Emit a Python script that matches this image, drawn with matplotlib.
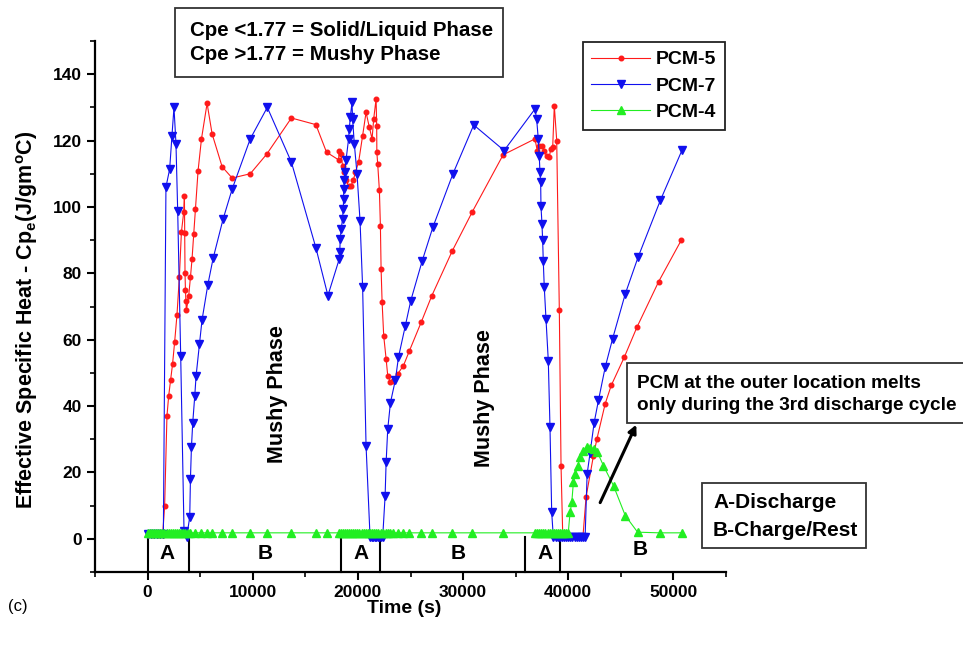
import matplotlib
matplotlib.use("Agg")
import matplotlib.pyplot as plt
from matplotlib.patches import Rectangle

plt.rcParams['font.family'] = ['Liberation Sans', 'DejaVu Sans']
plt.rcParams['font.weight'] = 'bold'
plt.rcParams['mathtext.fontset'] = 'custom'
plt.rcParams['mathtext.rm'] = 'Liberation Sans:bold'
plt.rcParams['mathtext.it'] = 'Liberation Sans:bold'
plt.rcParams['mathtext.bf'] = 'Liberation Sans:bold'
plt.rcParams['mathtext.default'] = 'rm'

# ---------------- data ----------------
pcm5_t = [0, 500, 1000, 1431, 1622, 1842, 2004, 2195, 2376, 2576,
          2796, 3025, 3216, 3435, 3502, 3530, 3560, 3600, 3640, 3690,
          3912, 4075, 4227, 4389, 4552, 4800, 5124, 5658, 6136, 7090,
          8044, 9762, 11327, 13674, 16002, 17013, 18158, 18225, 18388, 18540,
          18703, 18865, 19113, 19342, 19561, 19752, 20067, 20448, 20773, 21088,
          21346, 21499, 21728, 21785, 21800, 21880, 22042, 22137, 22204, 22300,
          22452, 22681, 22834, 23092, 23378, 23788, 24331, 24904, 26021, 27033,
          28979, 30888, 33808, 36833, 37052, 37243, 37472, 37691, 37949, 38197,
          38330, 38521, 38674, 38903, 39151, 39314, 39476, 39800, 40200, 40600,
          41000, 41400, 41698, 42395, 42719, 43512, 44085, 45325, 46537, 48597,
          50733]
pcm5_y = [1.0, 1.0, 1.0, 1.0, 10, 37, 43, 48, 52.7, 59.4,
          67.5, 79, 92.4, 98.4, 103.4, 92, 80, 75, 71.8, 68.8,
          73.3, 78.8, 84.3, 91.9, 99.4, 110.9, 120.5, 131.2, 122, 112.1,
          108.7, 110, 115.9, 126.8, 124.8, 116.5, 114.2, 117, 116, 112.4,
          110.4, 108, 106.4, 106.4, 108, 110.4, 113.5, 121.5, 128.5, 124,
          120.5, 126.5, 132.5, 124.5, 116.5, 113, 105, 94.4, 81.3, 71.3,
          61.2, 54.2, 49.2, 47.2, 47.7, 49.7, 52.2, 56.7, 65.3, 73.3,
          86.8, 98.6, 115.7, 120.5, 117, 118.5, 118.5, 117, 115.4, 114.9,
          117.5, 118, 130.5, 120, 69, 22, 1, 0.8, 0.8, 0.8,
          0.8, 0.8, 12.7, 25, 30, 40.7, 46.2, 54.7, 63.8, 77.5,
          89.9]

pcm7_t = [0, 300, 600, 900, 1200, 1500, 1746, 2099, 2319, 2510,
          2700, 2863, 3149, 3464, 3721, 4008, 4075, 4170, 4294, 4485,
          4609, 4933, 5181, 5725, 6231, 7185, 8044, 9762, 11384, 13674,
          16002, 17147, 18225, 18270, 18320, 18415, 18540, 18607, 18636, 18655,
          18703, 18731, 18865, 19113, 19180, 19275, 19437, 19494, 19657, 19914,
          20200, 20448, 20773, 21155, 21300, 21450, 21600, 21750, 21900, 22050,
          22200, 22357, 22586, 22681, 22834, 23092, 23569, 23855, 24495, 25029,
          26117, 27128, 29037, 31012, 33903, 36833, 36995, 37148, 37243, 37310,
          37377, 37405, 37500, 37567, 37624, 37720, 37882, 38102, 38264, 38426,
          38579, 38800, 39000, 39200, 39400, 39600, 39800, 40000, 40200, 40400,
          40600, 40800, 41000, 41200, 41400, 41603, 41794, 42080, 42462, 42872,
          43512, 44208, 45422, 46633, 48760, 50831]
pcm7_y = [1.5, 1.5, 1.5, 1.5, 1.5, 1.5, 106, 111.4, 121.5, 130,
          119, 98.8, 55, 2.5, 0.5, 6.6, 18, 27.6, 35, 43,
          49, 58.7, 66, 76.5, 84.5, 96.4, 105.4, 120.5, 130, 113.5,
          87.7, 73.3, 84.3, 86.3, 90.4, 93.4, 96.4, 99.4, 102.4, 105.4,
          108, 110.4, 114, 120.5, 123.5, 127, 131.5, 126.5, 119, 110,
          95.9, 75.8, 28.1, 0.5, 0.5, 0.5, 0.5, 0.5, 0.5, 0.5,
          0.5, 0.5, 13, 23, 33, 41, 48, 54.7, 64, 71.8,
          83.8, 93.9, 110, 124.7, 117, 129.5, 126.5, 120.5, 115.4, 110.4,
          107.4, 100.4, 94.9, 89.9, 83.8, 75.8, 66.3, 53.7, 33.6, 8,
          0.5, 0.5, 0.5, 0.5, 0.5, 0.5, 0.5, 0.5, 0.5, 0.5,
          0.5, 0.5, 0.5, 0.5, 0.5, 0.5, 19.5, 26, 35, 41.7,
          51.7, 60.2, 73.8, 84.8, 102, 117.2]

pcm4_t = [0, 200, 400, 600, 800, 1000, 1200, 1400, 1600, 1800,
          2000, 2200, 2400, 2600, 2800, 3000, 3200, 3400, 3600, 3800,
          4075, 4552, 5124, 5658, 6136, 7090, 8044, 9762, 11327, 13674,
          16002, 17013,
          18158, 18350, 18550, 18750, 18950, 19150, 19350, 19550, 19750, 19950,
          20150, 20350, 20550, 20750, 20950, 21150, 21350, 21550, 21750, 21950,
          22150, 22350,
          22681, 22834, 23092, 23378, 23788, 24331, 24904, 26021, 27033, 28979,
          30888, 33808,
          36833, 37033, 37233, 37433, 37633, 37833, 38033, 38233, 38433, 38633,
          38833, 39033, 39233, 39433, 39633, 39833, 40000,
          40174, 40336, 40488, 40650, 40908, 41127, 41441, 41766, 42080, 42462,
          42777, 43350, 44304, 45422, 46595, 48693, 50831]
pcm4_y = [1.8, 1.8, 1.8, 1.8, 1.8, 1.8, 1.8, 1.8, 1.8, 1.8,
          1.8, 1.8, 1.8, 1.8, 1.8, 1.8, 1.8, 1.8, 1.8, 1.8,
          1.8, 1.8, 1.8, 1.8, 1.8, 1.8, 1.8, 1.8, 1.8, 1.8,
          1.8, 1.8,
          1.8, 1.8, 1.8, 1.8, 1.8, 1.8, 1.8, 1.8, 1.8, 1.8,
          1.8, 1.8, 1.8, 1.8, 1.8, 1.8, 1.8, 1.8, 1.8, 1.8,
          1.8, 1.8,
          1.8, 1.8, 1.8, 1.8, 1.8, 1.8, 1.8, 1.8, 1.8, 1.8,
          1.8, 1.8,
          1.8, 1.8, 1.8, 1.8, 1.8, 1.8, 1.8, 1.8, 1.8, 1.8,
          1.8, 1.8, 1.8, 1.8, 1.8, 1.8, 1.8,
          8, 11, 17, 19.6, 22, 24.6, 26.6, 27.6, 27.3, 27.1,
          26.1, 22, 16, 7, 2, 1.8, 1.8]

phase_bounds = [0, 3900, 18400, 22100, 35900, 39200]
phase_labels = ['A', 'B', 'A', 'B', 'A', 'B']
phase_label_x = [1810, 11160, 20320, 29580, 37790, 46850]
phase_label_y = [-4.4, -4.4, -4.4, -4.4, -4.4, -3.2]

x_ticks = [0, 10000, 20000, 30000, 40000, 50000]
y_ticks = [0, 20, 40, 60, 80, 100, 120, 140]

# ---------------- figure ----------------
W, H = 963, 646
fig = plt.figure(figsize=(W / 100, H / 100), dpi=100)
L, R, T, B = 95, 726, 41, 572
ax = fig.add_axes([L / W, 1 - B / H, (R - L) / W, (B - T) / H])


def fx(px):
    return px / W


def fy(py):
    return 1 - py / H


ax.plot(pcm5_t, pcm5_y, color='#ff1a1a', lw=0.8, marker='o', ms=3.3,
        mec='#ff1a1a', label='PCM-5', zorder=3)
ax.plot(pcm7_t, pcm7_y, color='#1010ee', lw=0.8, marker='v', ms=6.2,
        mec='#1010ee', label='PCM-7', zorder=4)
ax.plot(pcm4_t, pcm4_y, color='#22ee22', lw=0.8, marker='^', ms=5.5,
        mec='#22ee22', label='PCM-4', zorder=5)

ax.set_xlim(-5000, 55000)
ax.set_ylim(-10, 150)
ax.set_xticks(x_ticks)
ax.set_xticklabels([str(v) for v in x_ticks])
ax.set_yticks(y_ticks)
ax.set_yticklabels([str(v) for v in y_ticks])
ax.set_xticks(range(-5000, 55001, 5000), minor=True)
ax.set_yticks(range(-10, 151, 10), minor=True)
ax.tick_params(which='major', direction='out', length=6, width=1.5,
               labelsize=12.5, pad=3.5)
ax.tick_params(which='minor', direction='out', length=3.5, width=1.2)
for lbl in ax.get_xticklabels() + ax.get_yticklabels():
    lbl.set_fontweight('bold')

for s in ['top', 'right']:
    ax.spines[s].set_visible(False)
for s in ['left', 'bottom']:
    ax.spines[s].set_linewidth(1.6)

ax.set_xlabel('Time (s)', fontsize=14, fontweight='bold')
ax.xaxis.set_label_coords((404 - L) / (R - L), (B - 600) / (B - T))
ax.set_ylabel(r'Effective Specific Heat - Cp$_{e}$(J/gm$^{o}$C)',
              fontsize=15.5, fontweight='bold')
ax.yaxis.set_label_coords((40 - L) / (R - L), 0.475)

# phase separators and labels
for xb in phase_bounds:
    ax.plot([xb, xb], [0.5, -10], color='black', lw=1.5, zorder=2,
            clip_on=False)
for lab, xl, yl in zip(phase_labels, phase_label_x, phase_label_y):
    ax.text(xl, yl, lab, ha='center', va='center', fontsize=15,
            fontweight='bold')

ax.text(12310, 43.5, 'Mushy Phase', rotation=90, ha='center', va='center',
        fontsize=15.5, fontweight='bold')
ax.text(32060, 42.5, 'Mushy Phase', rotation=90, ha='center', va='center',
        fontsize=15.5, fontweight='bold')

# arrow
ax.annotate('', xy=(46470, 34.4), xytext=(43034, 10.9),
            arrowprops=dict(arrowstyle='-|>', color='black', lw=2.2,
                            mutation_scale=12, shrinkA=0, shrinkB=0),
            zorder=6)

# legend
leg = ax.legend(loc='upper right', bbox_to_anchor=(0.998, 0.998),
                borderaxespad=0, fancybox=False, framealpha=1,
                edgecolor='#222222', prop={'weight': 'bold', 'size': 14},
                handlelength=3.0, handletextpad=0.3, labelspacing=0.45,
                borderpad=0.45)
leg.get_frame().set_linewidth(1.3)
leg.set_zorder(10)


# text boxes in figure pixel coordinates
def box(x0, y0, x1, y1):
    r = Rectangle((fx(x0), fy(y1)), fx(x1) - fx(x0), fy(y0) - fy(y1),
                  transform=fig.transFigure, facecolor='white',
                  edgecolor='#333333', lw=1.3, zorder=20)
    fig.add_artist(r)


box(175, 8, 503, 77)
fig.text(fx(190), fy(30), 'Cpe <1.77 = Solid/Liquid Phase', fontsize=14.8,
         fontweight='bold', va='center', ha='left', zorder=21)
fig.text(fx(190), fy(55), 'Cpe >1.77 = Mushy Phase', fontsize=14.8,
         fontweight='bold', va='center', ha='left', zorder=21)

box(627, 363, 975, 423)
fig.text(fx(637), fy(383), 'PCM at the outer location melts', fontsize=13.7,
         fontweight='bold', va='center', ha='left', zorder=21)
fig.text(fx(637), fy(405), 'only during the 3rd discharge cycle',
         fontsize=13.7, fontweight='bold', va='center', ha='left', zorder=21)

box(702, 483, 866, 548)
fig.text(fx(713), fy(503), 'A-Discharge', fontsize=15,
         fontweight='bold', va='center', ha='left', zorder=21)
fig.text(fx(713), fy(531), 'B-Charge/Rest', fontsize=15,
         fontweight='bold', va='center', ha='left', zorder=21)

fig.text(fx(8), fy(606), '(c)', fontsize=12, fontweight='normal',
         va='center', ha='left')

fig.savefig('out.png', dpi=100)
